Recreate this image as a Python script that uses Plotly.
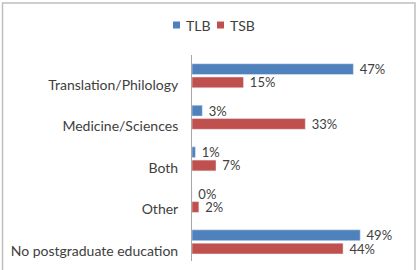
import plotly.graph_objects as go

categories = ["Translation/Philology", "Medicine/Sciences", "Both", "Other", "No postgraduate education"]
tlb_values = [47, 3, 1, 0, 49]
tsb_values = [15, 33, 7, 2, 44]
series_names = ["TLB", "TSB"]
series_colors = ["#4F81BD", "#C0504D"]

FONT = "Lato"
TXT = "#404040"
FS = 14
FS_DATA = 13

fig = go.Figure()
for name, vals, col, off in zip(series_names, [tlb_values, tsb_values], series_colors, [-0.51, -0.19]):
    fig.add_trace(go.Bar(
        name=name, y=categories, x=vals, orientation="h",
        marker_color=col, width=0.26, offset=off,
        texttemplate="\u00a0%{x}%", textposition="outside", cliponaxis=False,
        constraintext="none", showlegend=False,
        textfont=dict(family=FONT, size=FS_DATA, color=TXT),
    ))

L, R, T, B = 192, 20, 55, 9
W, H = 418, 270
pw, ph = W - L - R, H - T - B

def px(x):
    return (x - L) / pw

def py(y):
    return (H - B - y) / ph

shapes = [dict(type="rect", xref="paper", yref="paper",
               x0=px(2.5), x1=px(415), y0=py(3), y1=py(275),
               line=dict(color="#BFBFBF", width=1.5), fillcolor="rgba(0,0,0,0)", layer="below")]
annotations = []
# custom legend (squares + real text)
leg_sq_x = [173, 217]
leg_tx_x = [183.5, 228]
for name, col, sx, tx in zip(series_names, series_colors, leg_sq_x, leg_tx_x):
    shapes.append(dict(type="rect", xref="paper", yref="paper",
                       x0=px(sx), x1=px(sx + 7), y0=py(21.5), y1=py(28.5),
                       line=dict(width=0), fillcolor=col))
    annotations.append(dict(text=name, xref="paper", yref="paper", x=px(tx), y=py(25),
                            xanchor="left", yanchor="middle", showarrow=False,
                            font=dict(family=FONT, size=FS, color=TXT)))

fig.update_layout(
    width=W, height=H, barmode="overlay",
    margin=dict(l=L, r=R, t=T, b=B, pad=0),
    paper_bgcolor="white", plot_bgcolor="white",
    font=dict(family=FONT, size=FS, color=TXT),
    showlegend=False,
    xaxis=dict(range=[0, 60], visible=False, showgrid=False, zeroline=False),
    yaxis=dict(type="category", categoryorder="array", categoryarray=categories,
               range=[4.24, -0.72], showline=True, linecolor="#A6A6A6", linewidth=1,
               ticks="", showgrid=False, zeroline=False, ticklabelstandoff=10,
               tickfont=dict(family=FONT, size=FS, color=TXT)),
    shapes=shapes,
    annotations=annotations,
)

fig.write_html("out.html")
